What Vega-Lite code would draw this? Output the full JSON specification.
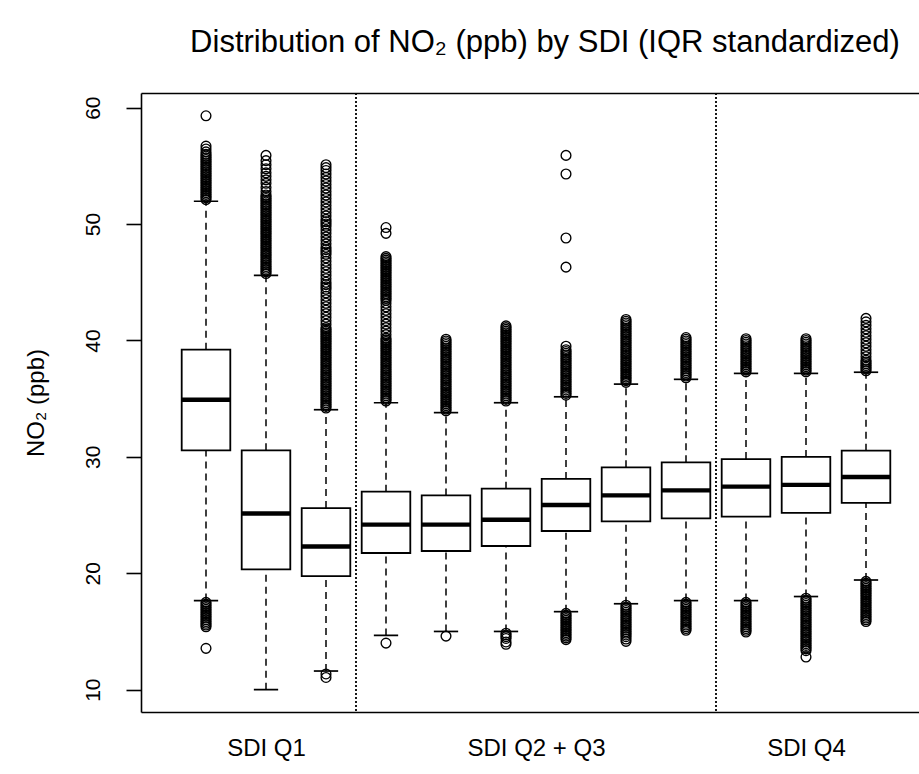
{
  "$schema": "https://vega.github.io/schema/vega-lite/v6.json",
  "width": 778,
  "height": 619,
  "autosize": {"type": "none"},
  "padding": {"left": 141, "top": 93, "right": 0, "bottom": 62},
  "background": "white",
  "title": {
    "text": "Distribution of NO₂ (ppb) by SDI (IQR standardized)",
    "font": "Liberation Sans",
    "fontSize": 31,
    "fontWeight": "normal",
    "color": "black",
    "anchor": "middle",
    "frame": "group",
    "baseline": "alphabetic",
    "offset": 9,
    "dx": 15
  },
  "config": {
    "view": {"stroke": null},
    "font": "Liberation Sans",
    "axisY": {
      "grid": false,
      "domainColor": "black",
      "domainWidth": 1.6,
      "tickColor": "black",
      "tickWidth": 1.6,
      "tickSize": 15,
      "labelAngle": 270,
      "labelAlign": "center",
      "labelBaseline": "bottom",
      "labelFontSize": 21,
      "labelColor": "black",
      "labelPadding": 23,
      "titleFontSize": 24,
      "titleFontWeight": "normal",
      "titleColor": "black",
      "titlePadding": 34
    }
  },
  "datasets": {
    "boxes": [
      {"g": 1, "lo": 17.65, "q1": 30.56, "med": 34.91, "q3": 39.21, "hi": 51.96},
      {"g": 2, "lo": 10.0, "q1": 20.34, "med": 25.13, "q3": 30.56, "hi": 45.6},
      {"g": 3, "lo": 11.6, "q1": 19.76, "med": 22.3, "q3": 25.6, "hi": 34.05},
      {"g": 4, "lo": 14.66, "q1": 21.74, "med": 24.18, "q3": 27.01, "hi": 34.65},
      {"g": 5, "lo": 15.0, "q1": 21.91, "med": 24.18, "q3": 26.69, "hi": 33.8},
      {"g": 6, "lo": 15.0, "q1": 22.34, "med": 24.6, "q3": 27.27, "hi": 34.65},
      {"g": 7, "lo": 16.7, "q1": 23.63, "med": 25.87, "q3": 28.1, "hi": 35.16},
      {"g": 8, "lo": 17.38, "q1": 24.46, "med": 26.69, "q3": 29.1, "hi": 36.25},
      {"g": 9, "lo": 17.65, "q1": 24.72, "med": 27.12, "q3": 29.53, "hi": 36.66},
      {"g": 10, "lo": 17.65, "q1": 24.86, "med": 27.44, "q3": 29.81, "hi": 37.17},
      {"g": 11, "lo": 18.0, "q1": 25.18, "med": 27.59, "q3": 29.99, "hi": 37.17},
      {"g": 12, "lo": 19.42, "q1": 26.04, "med": 28.27, "q3": 30.53, "hi": 37.27}
    ],
    "cuts": [{"cut": 3.5}, {"cut": 9.5}],
    "outliers": [
      {"g":1,"v":52.1},{"g":1,"v":52.25},{"g":1,"v":52.4},{"g":1,"v":52.55},{"g":1,"v":52.7},{"g":1,"v":52.85},{"g":1,"v":53.0},{"g":1,"v":53.15},{"g":1,"v":53.3},{"g":1,"v":53.45},{"g":1,"v":53.6},{"g":1,"v":53.75},{"g":1,"v":53.9},{"g":1,"v":54.05},{"g":1,"v":54.2},{"g":1,"v":54.35},{"g":1,"v":54.5},{"g":1,"v":54.65},{"g":1,"v":54.8},{"g":1,"v":54.95},{"g":1,"v":55.1},{"g":1,"v":55.25},{"g":1,"v":55.4},{"g":1,"v":55.55},{"g":1,"v":55.7},{"g":1,"v":55.85},{"g":1,"v":56.0},{"g":1,"v":56.2},{"g":1,"v":56.45},{"g":1,"v":56.7},{"g":1,"v":59.3},
      {"g":1,"v":17.5},{"g":1,"v":17.35},{"g":1,"v":17.2},{"g":1,"v":17.05},{"g":1,"v":16.9},{"g":1,"v":16.75},{"g":1,"v":16.6},{"g":1,"v":16.45},{"g":1,"v":16.3},{"g":1,"v":16.15},{"g":1,"v":16.0},{"g":1,"v":15.85},{"g":1,"v":15.7},{"g":1,"v":15.55},{"g":1,"v":15.4},{"g":1,"v":13.55},
      {"g":2,"v":45.75},{"g":2,"v":45.9},{"g":2,"v":46.05},{"g":2,"v":46.2},{"g":2,"v":46.35},{"g":2,"v":46.5},{"g":2,"v":46.65},{"g":2,"v":46.8},{"g":2,"v":46.95},{"g":2,"v":47.1},{"g":2,"v":47.25},{"g":2,"v":47.4},{"g":2,"v":47.55},{"g":2,"v":47.7},{"g":2,"v":47.85},{"g":2,"v":48.0},{"g":2,"v":48.15},{"g":2,"v":48.3},{"g":2,"v":48.45},{"g":2,"v":48.6},{"g":2,"v":48.75},{"g":2,"v":48.9},{"g":2,"v":49.05},{"g":2,"v":49.2},{"g":2,"v":49.35},{"g":2,"v":49.5},{"g":2,"v":49.65},{"g":2,"v":49.8},{"g":2,"v":49.95},{"g":2,"v":50.1},{"g":2,"v":50.25},{"g":2,"v":50.4},{"g":2,"v":50.55},{"g":2,"v":50.7},{"g":2,"v":50.85},{"g":2,"v":51.0},{"g":2,"v":51.15},{"g":2,"v":51.3},{"g":2,"v":51.45},{"g":2,"v":51.6},{"g":2,"v":51.75},{"g":2,"v":51.9},{"g":2,"v":52.05},{"g":2,"v":52.2},{"g":2,"v":52.35},{"g":2,"v":52.5},{"g":2,"v":52.8},{"g":2,"v":53.15},{"g":2,"v":53.5},{"g":2,"v":53.8},{"g":2,"v":54.1},{"g":2,"v":54.4},{"g":2,"v":54.75},{"g":2,"v":55.1},{"g":2,"v":55.45},{"g":2,"v":55.9},
      {"g":3,"v":34.2},{"g":3,"v":34.35},{"g":3,"v":34.5},{"g":3,"v":34.65},{"g":3,"v":34.8},{"g":3,"v":34.95},{"g":3,"v":35.1},{"g":3,"v":35.25},{"g":3,"v":35.4},{"g":3,"v":35.55},{"g":3,"v":35.7},{"g":3,"v":35.85},{"g":3,"v":36.0},{"g":3,"v":36.15},{"g":3,"v":36.3},{"g":3,"v":36.45},{"g":3,"v":36.6},{"g":3,"v":36.75},{"g":3,"v":36.9},{"g":3,"v":37.05},{"g":3,"v":37.2},{"g":3,"v":37.35},{"g":3,"v":37.5},{"g":3,"v":37.65},{"g":3,"v":37.8},{"g":3,"v":37.95},{"g":3,"v":38.1},{"g":3,"v":38.25},{"g":3,"v":38.4},{"g":3,"v":38.55},{"g":3,"v":38.7},{"g":3,"v":38.85},{"g":3,"v":39.0},{"g":3,"v":39.15},{"g":3,"v":39.3},{"g":3,"v":39.45},{"g":3,"v":39.6},{"g":3,"v":39.75},{"g":3,"v":39.9},{"g":3,"v":40.05},{"g":3,"v":40.2},{"g":3,"v":40.35},{"g":3,"v":40.5},{"g":3,"v":40.65},{"g":3,"v":40.8},{"g":3,"v":40.95},{"g":3,"v":41.1},
      {"g":3,"v":41.4},{"g":3,"v":41.7},{"g":3,"v":42.0},{"g":3,"v":42.3},{"g":3,"v":42.6},{"g":3,"v":42.9},{"g":3,"v":43.2},{"g":3,"v":43.5},{"g":3,"v":43.8},{"g":3,"v":44.1},{"g":3,"v":44.4},{"g":3,"v":44.6},{"g":3,"v":44.8},{"g":3,"v":45.0},{"g":3,"v":45.3},{"g":3,"v":45.6},{"g":3,"v":45.9},{"g":3,"v":46.2},{"g":3,"v":46.5},{"g":3,"v":46.8},{"g":3,"v":47.1},{"g":3,"v":47.4},{"g":3,"v":47.6},{"g":3,"v":47.8},{"g":3,"v":48.0},{"g":3,"v":48.3},{"g":3,"v":48.6},{"g":3,"v":48.9},{"g":3,"v":49.2},{"g":3,"v":49.5},{"g":3,"v":49.8},{"g":3,"v":50.0},{"g":3,"v":50.2},{"g":3,"v":50.4},{"g":3,"v":50.7},{"g":3,"v":51.0},{"g":3,"v":51.3},{"g":3,"v":51.6},{"g":3,"v":51.9},{"g":3,"v":52.2},{"g":3,"v":52.5},{"g":3,"v":52.8},{"g":3,"v":53.1},{"g":3,"v":53.4},{"g":3,"v":53.7},{"g":3,"v":54.0},{"g":3,"v":54.3},{"g":3,"v":54.6},{"g":3,"v":54.85},{"g":3,"v":55.1},
      {"g":3,"v":11.35},{"g":3,"v":11.05},
      {"g":4,"v":34.8},{"g":4,"v":34.95},{"g":4,"v":35.1},{"g":4,"v":35.25},{"g":4,"v":35.4},{"g":4,"v":35.55},{"g":4,"v":35.7},{"g":4,"v":35.85},{"g":4,"v":36.0},{"g":4,"v":36.15},{"g":4,"v":36.3},{"g":4,"v":36.45},{"g":4,"v":36.6},{"g":4,"v":36.75},{"g":4,"v":36.9},{"g":4,"v":37.05},{"g":4,"v":37.2},{"g":4,"v":37.35},{"g":4,"v":37.5},{"g":4,"v":37.65},{"g":4,"v":37.8},{"g":4,"v":37.95},{"g":4,"v":38.1},{"g":4,"v":38.25},{"g":4,"v":38.4},{"g":4,"v":38.55},{"g":4,"v":38.7},{"g":4,"v":38.85},{"g":4,"v":39.0},{"g":4,"v":39.15},{"g":4,"v":39.3},{"g":4,"v":39.45},{"g":4,"v":39.6},{"g":4,"v":39.75},{"g":4,"v":39.9},{"g":4,"v":40.05},{"g":4,"v":40.2},
      {"g":4,"v":40.5},{"g":4,"v":40.8},{"g":4,"v":41.1},{"g":4,"v":41.4},{"g":4,"v":41.7},{"g":4,"v":42.0},{"g":4,"v":42.3},{"g":4,"v":42.6},{"g":4,"v":42.9},{"g":4,"v":43.2},{"g":4,"v":43.45},
      {"g":4,"v":43.6},{"g":4,"v":43.75},{"g":4,"v":43.9},{"g":4,"v":44.05},{"g":4,"v":44.2},{"g":4,"v":44.35},{"g":4,"v":44.5},{"g":4,"v":44.65},{"g":4,"v":44.8},{"g":4,"v":44.95},{"g":4,"v":45.1},{"g":4,"v":45.25},{"g":4,"v":45.4},{"g":4,"v":45.55},{"g":4,"v":45.7},{"g":4,"v":45.85},{"g":4,"v":46.0},{"g":4,"v":46.15},{"g":4,"v":46.3},{"g":4,"v":46.45},{"g":4,"v":46.6},{"g":4,"v":46.75},{"g":4,"v":46.9},{"g":4,"v":47.05},{"g":4,"v":47.2},
      {"g":4,"v":49.2},{"g":4,"v":49.7},{"g":4,"v":14.0},
      {"g":5,"v":33.95},{"g":5,"v":34.1},{"g":5,"v":34.25},{"g":5,"v":34.4},{"g":5,"v":34.55},{"g":5,"v":34.7},{"g":5,"v":34.85},{"g":5,"v":35.0},{"g":5,"v":35.15},{"g":5,"v":35.3},{"g":5,"v":35.45},{"g":5,"v":35.6},{"g":5,"v":35.75},{"g":5,"v":35.9},{"g":5,"v":36.05},{"g":5,"v":36.2},{"g":5,"v":36.35},{"g":5,"v":36.5},{"g":5,"v":36.65},{"g":5,"v":36.8},{"g":5,"v":36.95},{"g":5,"v":37.1},{"g":5,"v":37.25},{"g":5,"v":37.4},{"g":5,"v":37.55},{"g":5,"v":37.7},{"g":5,"v":37.85},{"g":5,"v":38.0},{"g":5,"v":38.15},{"g":5,"v":38.3},{"g":5,"v":38.45},{"g":5,"v":38.6},{"g":5,"v":38.75},{"g":5,"v":38.9},{"g":5,"v":39.05},{"g":5,"v":39.2},{"g":5,"v":39.35},{"g":5,"v":39.5},{"g":5,"v":39.65},{"g":5,"v":39.8},{"g":5,"v":39.95},{"g":5,"v":40.1},
      {"g":5,"v":14.6},
      {"g":6,"v":34.8},{"g":6,"v":34.95},{"g":6,"v":35.1},{"g":6,"v":35.25},{"g":6,"v":35.4},{"g":6,"v":35.55},{"g":6,"v":35.7},{"g":6,"v":35.85},{"g":6,"v":36.0},{"g":6,"v":36.15},{"g":6,"v":36.3},{"g":6,"v":36.45},{"g":6,"v":36.6},{"g":6,"v":36.75},{"g":6,"v":36.9},{"g":6,"v":37.05},{"g":6,"v":37.2},{"g":6,"v":37.35},{"g":6,"v":37.5},{"g":6,"v":37.65},{"g":6,"v":37.8},{"g":6,"v":37.95},{"g":6,"v":38.1},{"g":6,"v":38.25},{"g":6,"v":38.4},{"g":6,"v":38.55},{"g":6,"v":38.7},{"g":6,"v":38.85},{"g":6,"v":39.0},{"g":6,"v":39.15},{"g":6,"v":39.3},{"g":6,"v":39.45},{"g":6,"v":39.6},{"g":6,"v":39.75},{"g":6,"v":39.9},{"g":6,"v":40.05},{"g":6,"v":40.2},{"g":6,"v":40.35},{"g":6,"v":40.5},{"g":6,"v":40.65},{"g":6,"v":40.8},{"g":6,"v":40.95},{"g":6,"v":41.1},{"g":6,"v":41.25},
      {"g":6,"v":14.85},{"g":6,"v":14.7},{"g":6,"v":14.55},{"g":6,"v":14.4},{"g":6,"v":14.1},{"g":6,"v":13.9},
      {"g":7,"v":35.3},{"g":7,"v":35.45},{"g":7,"v":35.6},{"g":7,"v":35.75},{"g":7,"v":35.9},{"g":7,"v":36.05},{"g":7,"v":36.2},{"g":7,"v":36.35},{"g":7,"v":36.5},{"g":7,"v":36.65},{"g":7,"v":36.8},{"g":7,"v":36.95},{"g":7,"v":37.1},{"g":7,"v":37.25},{"g":7,"v":37.4},{"g":7,"v":37.55},{"g":7,"v":37.7},{"g":7,"v":37.85},{"g":7,"v":38.0},{"g":7,"v":38.15},{"g":7,"v":38.3},{"g":7,"v":38.45},{"g":7,"v":38.6},{"g":7,"v":38.75},{"g":7,"v":38.9},{"g":7,"v":39.05},{"g":7,"v":39.2},{"g":7,"v":39.5},
      {"g":7,"v":46.3},{"g":7,"v":48.8},{"g":7,"v":54.3},{"g":7,"v":55.9},
      {"g":7,"v":16.55},{"g":7,"v":16.4},{"g":7,"v":16.25},{"g":7,"v":16.1},{"g":7,"v":15.95},{"g":7,"v":15.8},{"g":7,"v":15.65},{"g":7,"v":15.5},{"g":7,"v":15.35},{"g":7,"v":15.2},{"g":7,"v":15.05},{"g":7,"v":14.9},{"g":7,"v":14.75},{"g":7,"v":14.6},{"g":7,"v":14.45},{"g":7,"v":14.3},
      {"g":8,"v":36.4},{"g":8,"v":36.55},{"g":8,"v":36.7},{"g":8,"v":36.85},{"g":8,"v":37.0},{"g":8,"v":37.15},{"g":8,"v":37.3},{"g":8,"v":37.45},{"g":8,"v":37.6},{"g":8,"v":37.75},{"g":8,"v":37.9},{"g":8,"v":38.05},{"g":8,"v":38.2},{"g":8,"v":38.35},{"g":8,"v":38.5},{"g":8,"v":38.65},{"g":8,"v":38.8},{"g":8,"v":38.95},{"g":8,"v":39.1},{"g":8,"v":39.25},{"g":8,"v":39.4},{"g":8,"v":39.55},{"g":8,"v":39.7},{"g":8,"v":39.85},{"g":8,"v":40.0},{"g":8,"v":40.15},{"g":8,"v":40.3},{"g":8,"v":40.45},{"g":8,"v":40.6},{"g":8,"v":40.75},{"g":8,"v":40.9},{"g":8,"v":41.05},{"g":8,"v":41.2},{"g":8,"v":41.35},{"g":8,"v":41.5},{"g":8,"v":41.65},{"g":8,"v":41.8},
      {"g":8,"v":17.25},{"g":8,"v":17.1},{"g":8,"v":16.95},{"g":8,"v":16.8},{"g":8,"v":16.65},{"g":8,"v":16.5},{"g":8,"v":16.35},{"g":8,"v":16.2},{"g":8,"v":16.05},{"g":8,"v":15.9},{"g":8,"v":15.75},{"g":8,"v":15.6},{"g":8,"v":15.45},{"g":8,"v":15.3},{"g":8,"v":15.15},{"g":8,"v":15.0},{"g":8,"v":14.85},{"g":8,"v":14.7},{"g":8,"v":14.55},{"g":8,"v":14.35},{"g":8,"v":14.15},
      {"g":9,"v":36.8},{"g":9,"v":36.95},{"g":9,"v":37.1},{"g":9,"v":37.25},{"g":9,"v":37.4},{"g":9,"v":37.55},{"g":9,"v":37.7},{"g":9,"v":37.85},{"g":9,"v":38.0},{"g":9,"v":38.15},{"g":9,"v":38.3},{"g":9,"v":38.45},{"g":9,"v":38.6},{"g":9,"v":38.75},{"g":9,"v":38.9},{"g":9,"v":39.05},{"g":9,"v":39.2},{"g":9,"v":39.35},{"g":9,"v":39.5},{"g":9,"v":39.65},{"g":9,"v":39.8},{"g":9,"v":39.95},{"g":9,"v":40.1},{"g":9,"v":40.25},
      {"g":9,"v":17.5},{"g":9,"v":17.35},{"g":9,"v":17.2},{"g":9,"v":17.05},{"g":9,"v":16.9},{"g":9,"v":16.75},{"g":9,"v":16.6},{"g":9,"v":16.45},{"g":9,"v":16.3},{"g":9,"v":16.15},{"g":9,"v":16.0},{"g":9,"v":15.85},{"g":9,"v":15.7},{"g":9,"v":15.55},{"g":9,"v":15.4},{"g":9,"v":15.25},{"g":9,"v":15.1},
      {"g":10,"v":37.3},{"g":10,"v":37.45},{"g":10,"v":37.6},{"g":10,"v":37.75},{"g":10,"v":37.9},{"g":10,"v":38.05},{"g":10,"v":38.2},{"g":10,"v":38.35},{"g":10,"v":38.5},{"g":10,"v":38.65},{"g":10,"v":38.8},{"g":10,"v":38.95},{"g":10,"v":39.1},{"g":10,"v":39.25},{"g":10,"v":39.4},{"g":10,"v":39.55},{"g":10,"v":39.7},{"g":10,"v":39.85},{"g":10,"v":40.0},{"g":10,"v":40.15},
      {"g":10,"v":17.5},{"g":10,"v":17.35},{"g":10,"v":17.2},{"g":10,"v":17.05},{"g":10,"v":16.9},{"g":10,"v":16.75},{"g":10,"v":16.6},{"g":10,"v":16.45},{"g":10,"v":16.3},{"g":10,"v":16.15},{"g":10,"v":16.0},{"g":10,"v":15.85},{"g":10,"v":15.7},{"g":10,"v":15.55},{"g":10,"v":15.4},{"g":10,"v":15.25},{"g":10,"v":15.1},{"g":10,"v":14.95},
      {"g":11,"v":37.3},{"g":11,"v":37.45},{"g":11,"v":37.6},{"g":11,"v":37.75},{"g":11,"v":37.9},{"g":11,"v":38.05},{"g":11,"v":38.2},{"g":11,"v":38.35},{"g":11,"v":38.5},{"g":11,"v":38.65},{"g":11,"v":38.8},{"g":11,"v":38.95},{"g":11,"v":39.1},{"g":11,"v":39.25},{"g":11,"v":39.4},{"g":11,"v":39.55},{"g":11,"v":39.7},{"g":11,"v":39.85},{"g":11,"v":40.0},{"g":11,"v":40.15},
      {"g":11,"v":17.85},{"g":11,"v":17.7},{"g":11,"v":17.55},{"g":11,"v":17.4},{"g":11,"v":17.25},{"g":11,"v":17.1},{"g":11,"v":16.95},{"g":11,"v":16.8},{"g":11,"v":16.65},{"g":11,"v":16.5},{"g":11,"v":16.35},{"g":11,"v":16.2},{"g":11,"v":16.05},{"g":11,"v":15.9},{"g":11,"v":15.75},{"g":11,"v":15.6},{"g":11,"v":15.45},{"g":11,"v":15.3},{"g":11,"v":15.15},{"g":11,"v":15.0},{"g":11,"v":14.85},{"g":11,"v":14.7},{"g":11,"v":14.55},{"g":11,"v":14.4},{"g":11,"v":14.25},{"g":11,"v":14.1},{"g":11,"v":13.95},{"g":11,"v":13.8},{"g":11,"v":13.65},{"g":11,"v":13.5},{"g":11,"v":13.35},{"g":11,"v":12.8},
      {"g":12,"v":37.4},{"g":12,"v":37.55},{"g":12,"v":37.7},{"g":12,"v":37.85},{"g":12,"v":38.0},{"g":12,"v":38.15},{"g":12,"v":38.3},{"g":12,"v":38.6},{"g":12,"v":38.9},{"g":12,"v":39.2},{"g":12,"v":39.5},{"g":12,"v":39.8},{"g":12,"v":40.1},{"g":12,"v":40.4},{"g":12,"v":40.7},{"g":12,"v":41.0},{"g":12,"v":41.3},{"g":12,"v":41.6},{"g":12,"v":41.9},
      {"g":12,"v":19.3},{"g":12,"v":19.15},{"g":12,"v":19.0},{"g":12,"v":18.85},{"g":12,"v":18.7},{"g":12,"v":18.55},{"g":12,"v":18.4},{"g":12,"v":18.25},{"g":12,"v":18.1},{"g":12,"v":17.95},{"g":12,"v":17.8},{"g":12,"v":17.65},{"g":12,"v":17.5},{"g":12,"v":17.35},{"g":12,"v":17.2},{"g":12,"v":17.05},{"g":12,"v":16.9},{"g":12,"v":16.75},{"g":12,"v":16.6},{"g":12,"v":16.45},{"g":12,"v":16.3},{"g":12,"v":16.15},{"g":12,"v":16.0},{"g":12,"v":15.85}
    ]
  },
  "resolve": {"axis": {"x": "independent"}},
  "layer": [
    {
      "data": {"name": "boxes"},
      "mark": {"type": "rule", "color": "black", "strokeWidth": 1.5, "strokeDash": [7, 5]},
      "encoding": {
        "x": {"field": "g", "type": "quantitative", "scale": {"domain": [0, 12.8], "nice": false, "zero": false},
          "axis": {"orient": "bottom", "values": [2, 6.5, 11], "labelExpr": "datum.value == 2 ? 'SDI Q1' : datum.value == 6.5 ? 'SDI Q2 + Q3' : 'SDI Q4'", "ticks": false, "grid": false, "domainColor": "black", "domainWidth": 1.6, "labelFontSize": 24, "labelColor": "black", "labelPadding": 24, "title": null}},
        "y": {"field": "lo", "type": "quantitative", "title": "NO₂ (ppb)", "scale": {"domain": [8.08, 61.26], "nice": false, "zero": false},
          "axis": {"values": [10, 20, 30, 40, 50, 60]}},
        "y2": {"field": "q1"}
      }
    },
    {
      "data": {"name": "boxes"},
      "mark": {"type": "rule", "color": "black", "strokeWidth": 1.5, "strokeDash": [7, 5]},
      "encoding": {
        "x": {"field": "g", "type": "quantitative", "axis": null},
        "y": {"field": "q3", "type": "quantitative", "title": "NO₂ (ppb)", "axis": {"values": [10, 20, 30, 40, 50, 60]}},
        "y2": {"field": "hi"}
      }
    },
    {
      "data": {"name": "boxes"},
      "mark": {"type": "tick", "orient": "horizontal", "color": "black", "opacity": 1, "size": 24.3, "thickness": 1.7},
      "encoding": {
        "x": {"field": "g", "type": "quantitative", "axis": null},
        "y": {"field": "lo", "type": "quantitative", "title": "NO₂ (ppb)", "axis": {"values": [10, 20, 30, 40, 50, 60]}}
      }
    },
    {
      "data": {"name": "boxes"},
      "mark": {"type": "tick", "orient": "horizontal", "color": "black", "opacity": 1, "size": 24.3, "thickness": 1.7},
      "encoding": {
        "x": {"field": "g", "type": "quantitative", "axis": null},
        "y": {"field": "hi", "type": "quantitative", "title": "NO₂ (ppb)", "axis": {"values": [10, 20, 30, 40, 50, 60]}}
      }
    },
    {
      "data": {"name": "boxes"},
      "mark": {"type": "bar", "orient": "vertical", "width": 48.6, "fill": "white", "stroke": "black", "strokeWidth": 1.8},
      "encoding": {
        "x": {"field": "g", "type": "quantitative", "axis": null},
        "y": {"field": "q1", "type": "quantitative", "title": "NO₂ (ppb)", "axis": {"values": [10, 20, 30, 40, 50, 60]}},
        "y2": {"field": "q3"}
      }
    },
    {
      "data": {"name": "boxes"},
      "mark": {"type": "tick", "orient": "horizontal", "color": "black", "opacity": 1, "size": 48.6, "thickness": 4.4},
      "encoding": {
        "x": {"field": "g", "type": "quantitative", "axis": null},
        "y": {"field": "med", "type": "quantitative", "title": "NO₂ (ppb)", "axis": {"values": [10, 20, 30, 40, 50, 60]}}
      }
    },
    {
      "data": {"name": "cuts"},
      "mark": {"type": "rule", "color": "black", "strokeWidth": 1.8, "strokeDash": [2, 2]},
      "encoding": {
        "x": {"field": "cut", "type": "quantitative", "axis": null}
      }
    },
    {
      "data": {"name": "outliers"},
      "mark": {"type": "point", "shape": "circle", "filled": false, "size": 95, "stroke": "black", "strokeWidth": 1.35, "opacity": 1},
      "encoding": {
        "x": {"field": "g", "type": "quantitative",
          "axis": {"orient": "top", "labels": false, "ticks": false, "grid": false, "domainColor": "black", "domainWidth": 1.6, "title": null}},
        "y": {"field": "v", "type": "quantitative", "title": "NO₂ (ppb)", "axis": {"values": [10, 20, 30, 40, 50, 60]}}
      }
    }
  ]
}
